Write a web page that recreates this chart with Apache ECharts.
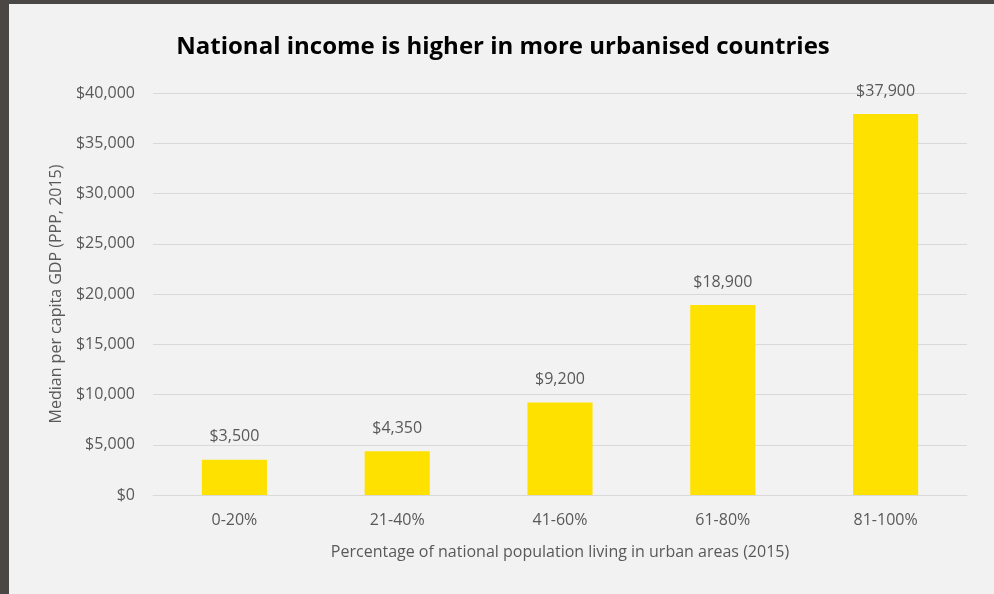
<!DOCTYPE html>
<html><head><meta charset="utf-8">
<script src="https://cdn.jsdelivr.net/npm/echarts@6/dist/echarts.min.js"></script>
<style>
html,body{margin:0;padding:0;width:994px;height:594px;overflow:hidden;background:#4a4744;}
#panel{position:absolute;left:9px;top:4px;width:985px;height:590px;background:#f2f2f2;}
#c{position:absolute;left:0;top:0;width:994px;height:594px;}
</style></head>
<body><div id="panel"></div><div id="c"></div>
<script>
const categories = ['0-20%','21-40%','41-60%','61-80%','81-100%'];
const values = [3500, 4350, 9200, 18900, 37900];
const titleText = 'National income is higher in more urbanised countries';
const xName = 'Percentage of national population living in urban areas (2015)';
const yName = 'Median per capita GDP (PPP, 2015)';
const ff = "'Open Sans', 'Noto Sans', sans-serif";
const fmt = v => '$' + v.toLocaleString('en-US');
const chart = echarts.init(document.getElementById('c'));
chart.setOption({
  backgroundColor: 'transparent',
  animation: false,
  title: { text: titleText, left: 498, textAlign: 'center', top: 30,
    textStyle: { fontFamily: ff, fontWeight: 'bold', fontSize: 24, color: '#000' } },
  grid: { left: 153, right: 27, top: 93, bottom: 99 },
  xAxis: { type: 'category', data: categories,
    name: xName, nameLocation: 'middle', nameGap: 49,
    nameTextStyle: { fontFamily: ff, fontSize: 16, color: '#595959' },
    axisTick: { show: false },
    axisLine: { lineStyle: { color: '#d9d9d9', width: 1 } },
    axisLabel: { fontFamily: ff, fontSize: 16, color: '#595959', margin: 17 } },
  yAxis: { type: 'value', min: 0, max: 40000, interval: 5000,
    name: yName, nameLocation: 'middle', nameGap: 89,
    nameTextStyle: { fontFamily: ff, fontSize: 16, color: '#595959' },
    axisLabel: { fontFamily: ff, fontSize: 16, color: '#595959', margin: 18, formatter: fmt },
    splitLine: { lineStyle: { color: '#d9d9d9', width: 1 } } },
  series: [{ type: 'bar', data: values, barWidth: '40%',
    itemStyle: { color: '#ffe100' },
    label: { show: true, position: 'top', distance: 15, formatter: p => fmt(p.value),
      fontFamily: ff, fontSize: 16, color: '#595959' } }]
});
</script></body></html>
